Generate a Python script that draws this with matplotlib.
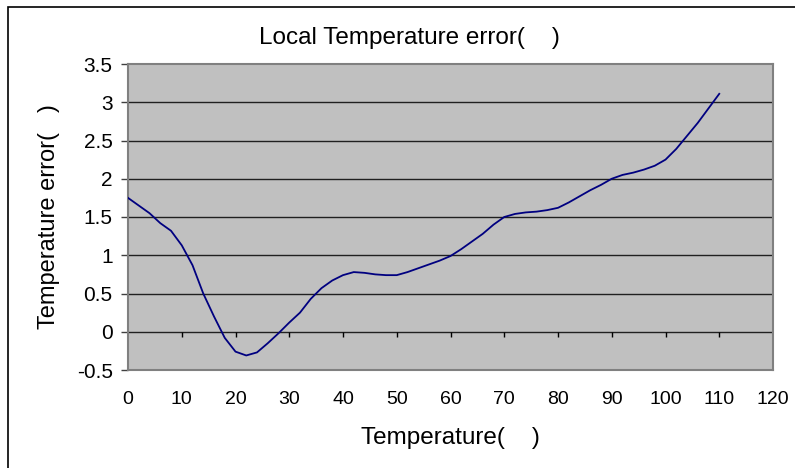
import numpy as np
import matplotlib.pyplot as plt
from matplotlib.patches import Rectangle

# datos
temp = [0, 2, 4, 6, 8, 10, 12, 14, 16, 18, 20, 22, 24, 26, 28, 30, 32, 34, 36, 38,
        40, 42, 44, 46, 48, 50, 52, 54, 56, 58, 60, 62, 64, 66, 68, 70, 72, 74, 76, 78,
        80, 82, 84, 86, 88, 90, 92, 94, 96, 98, 100, 102, 104, 106, 108, 110]
error = [1.75, 1.65, 1.55, 1.42, 1.32, 1.13, 0.87, 0.50, 0.20, -0.08, -0.26, -0.31, -0.27, -0.15, -0.02, 0.12, 0.25, 0.43, 0.57, 0.67,
         0.74, 0.78, 0.77, 0.75, 0.74, 0.74, 0.78, 0.83, 0.88, 0.93, 0.99, 1.08, 1.18, 1.28, 1.40, 1.50, 1.54, 1.56, 1.57, 1.59,
         1.62, 1.69, 1.77, 1.85, 1.92, 2.00, 2.05, 2.08, 2.12, 2.17, 2.25, 2.39, 2.56, 2.73, 2.92, 3.11]

xticks = np.arange(0, 121, 10)
yticks = np.arange(-0.5, 3.51, 0.5)
ytick_labels = ['-0.5', '0', '0.5', '1', '1.5', '2', '2.5', '3', '3.5']

plt.rcParams['font.family'] = ['Liberation Sans', 'DejaVu Sans']

fig = plt.figure(figsize=(7.95, 4.68), dpi=100)
ax = fig.add_axes([128 / 795, 98 / 468, 645 / 795, 306 / 468])
ax.set_facecolor('#C0C0C0')

# lineas horizontales de la rejilla
for v in yticks[1:-1]:
    ax.axhline(v, color='#202020', lw=1.0, zorder=1)
ax.vlines(xticks[1:], -0.07, 0, color='black', lw=1.0, zorder=1)

ax.plot(temp, error, color='#000080', lw=1.3, zorder=3)

ax.set_xlim(0, 120)
ax.set_ylim(-0.5, 3.5)
ax.set_xticks(xticks)
ax.set_xticklabels([str(t) for t in xticks], fontsize=14)
ax.set_yticks(yticks)
ax.set_yticklabels(ytick_labels, fontsize=15)
ax.tick_params(axis='x', length=0, pad=15)
ax.tick_params(axis='y', length=5, width=1, color='#404040', pad=6)

for s in ax.spines.values():
    s.set_color('#808080')
    s.set_linewidth(1.5)

ax.set_xlabel('Temperature(    )', fontsize=17.5)
ax.xaxis.set_label_coords(0.5, -0.186)
ax.set_ylabel('Temperature error(   )', fontsize=17)
ax.yaxis.set_label_coords(-0.106, 0.5)
fig.text(409 / 795, 1 - 38 / 468, 'Local Temperature error(    )', ha='center', va='center', fontsize=17.5)

# marco exterior
fig.patches.append(Rectangle((8 / 795, -0.1), 1.2, 1.1 - 7 / 468, transform=fig.transFigure,
                             fill=False, edgecolor='black', lw=1.2))

fig.savefig('out.png', dpi=100)
